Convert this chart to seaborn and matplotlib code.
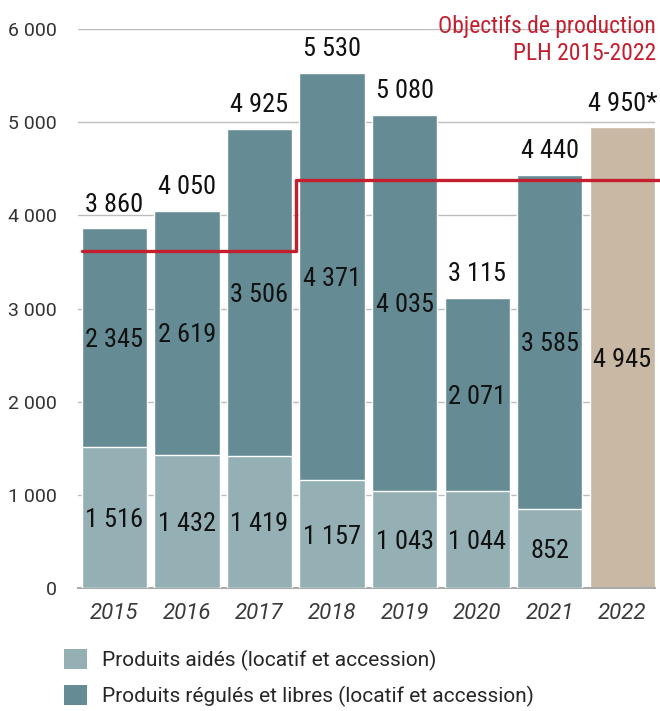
import matplotlib
matplotlib.use("Agg")
import matplotlib.pyplot as plt
import matplotlib.font_manager as fm
from matplotlib.patches import Patch
import seaborn as sns
import pandas as pd
import numpy as np

years = ["2015", "2016", "2017", "2018", "2019", "2020", "2021", "2022"]
aides = [1516, 1432, 1419, 1157, 1043, 1044, 852, np.nan]
regules = [2345, 2619, 3506, 4371, 4035, 2071, 3585, np.nan]
estimation_2022 = 4945
top_labels = ["3 860", "4 050", "4 925", "5 530", "5 080", "3 115", "4 440", "4 950*"]
objectif_years = [-0.45, 2.5, 2.5, 7.6]
objectif_values = [3620, 3620, 4380, 4380]
legend_labels = ["Produits aidés (locatif et accession)",
                 "Produits régulés et libres (locatif et accession)"]
title_text = "Objectifs de production\nPLH 2015-2022"

names = {f.name for f in fm.fontManager.ttflist}
cond = None
for cand in ["Roboto Condensed", "Liberation Sans Narrow", "Roboto"]:
    if cand in names:
        cond = cand
        break
narrow = cond in ("Roboto Condensed", "Liberation Sans Narrow")

sns.set_theme(style="white")
plt.rcParams['font.family'] = ['Roboto', 'DejaVu Sans']
COND = [cond, 'DejaVu Sans']

C_LIGHT = "#94b0b5"
C_DARK = "#658c95"
C_BEIGE = "#c9b8a3"
C_RED = "#c41f2f"

df = pd.DataFrame({"year": years, "aides": aides, "regules": regules})
df["total"] = df["aides"] + df["regules"]
df.loc[df.year == "2022", "total"] = estimation_2022
df["cat"] = ["hist"] * 7 + ["est"]

fig = plt.figure(figsize=(6.6, 7.11), dpi=100)
ax = fig.add_axes([78 / 660, 1 - 588 / 711, (655 - 78) / 660, (588 - 29) / 711])

sns.barplot(data=df, x="year", y="total", hue="cat", palette={"hist": C_DARK, "est": C_BEIGE},
            width=0.9, legend=False, ax=ax, dodge=False, saturation=1, zorder=2)
sns.barplot(data=df, x="year", y="aides", color=C_LIGHT, width=0.9, ax=ax,
            saturation=1, zorder=3)

ax.plot(objectif_years, objectif_values, color=C_RED, lw=2.4, zorder=4, clip_on=False)

ax.set_ylim(0, 6000)
ax.set_xlim(-0.5, 7.45)
ax.set_yticks([0, 1000, 2000, 3000, 4000, 5000, 6000])
ax.set_yticklabels(["0", "1 000", "2 000", "3 000", "4 000", "5 000", "6 000"])
ax.yaxis.grid(True, color="#bdbdbd", lw=1)
ax.set_axisbelow(True)
for s in ["top", "right", "left"]:
    ax.spines[s].set_visible(False)
ax.spines["bottom"].set_color("#aaaaaa")
ax.spines["bottom"].set_linewidth(1.5)
ax.set_xlabel("")
ax.set_ylabel("")

lab_fs = 19 if narrow else 17
ax.tick_params(axis="y", labelsize=14, labelcolor="#333333", pad=15, length=0)
ax.tick_params(axis="x", labelsize=16, labelcolor="#3a3a3a", pad=11, length=0)
for t in ax.get_xticklabels():
    t.set_fontstyle("italic")

fmt = lambda v: f"{int(v):,}".replace(",", " ")
for i in range(8):
    tot = df.total[i]
    ax.annotate(top_labels[i], (i, tot), xytext=(0, 12), textcoords="offset points",
                ha="center", va="baseline", fontsize=lab_fs, color="#111111", zorder=6,
                family=COND)
    if i < 7:
        a = df.aides[i]
        r = df.regules[i]
        ax.text(i, a / 2, fmt(a), ha="center", va="center_baseline", fontsize=lab_fs,
                color="#111111", zorder=6, family=COND)
        ax.text(i, a + r / 2, fmt(r), ha="center", va="center_baseline", fontsize=lab_fs,
                color="#111111", zorder=6, family=COND)
    else:
        ax.text(i, tot / 2, fmt(estimation_2022), ha="center", va="center_baseline",
                fontsize=lab_fs, color="#111111", zorder=6, family=COND)

fig.text(656 / 660, 1 - 15 / 711, title_text, ha="right", va="top", color=C_RED,
         fontsize=17 if narrow else 14, linespacing=1.22, family=COND)

handles = [Patch(facecolor=C_LIGHT, edgecolor="none"), Patch(facecolor=C_DARK, edgecolor="none")]
fig.legend(handles, legend_labels, loc="upper left", bbox_to_anchor=(64 / 660, 1 - 649 / 711),
           frameon=False, fontsize=15, handlelength=1.1, handleheight=1.1,
           handletextpad=0.7, labelspacing=0.68, borderaxespad=0, borderpad=0)

fig.savefig("out.png", dpi=100)
